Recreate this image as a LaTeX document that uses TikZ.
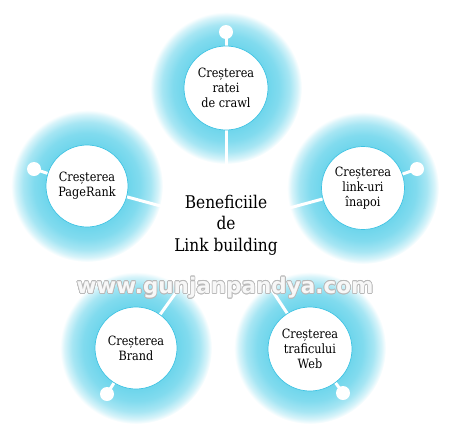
\documentclass[tikz,border=0pt]{standalone}
\usepackage{fontspec}
\usepackage[copies]{contour}
\newfontfamily\slab[FakeStretch=0.88]{DejaVu Serif}
\newfontfamily\wmfont{DejaVu Sans Bold}
\definecolor{gcyan}{HTML}{70D6EC}
\definecolor{rimcyan}{HTML}{3EC3E3}
\pgfdeclareradialshading{glow}{\pgfpointorigin}{color(0bp)=(gcyan); color(14bp)=(gcyan); color(17.5bp)=(gcyan!88); color(21bp)=(gcyan!62); color(23.5bp)=(gcyan!28); color(25bp)=(white); color(50bp)=(white)}
\contourlength{0.7pt}
\tikzset{
  glowdisc/.style={circle, minimum size=152pt, inner sep=0pt, shading=glow},
  benefit/.style={circle, minimum size=84pt, inner sep=0pt, fill=white, draw=rimcyan, line width=0.7pt, align=center, font=\slab\fontsize{12.8}{15}\selectfont},
  dotc/.style={circle, minimum size=14pt, inner sep=0pt, fill=white},
  conn/.style={white, line width=3pt},
  stem/.style={white, line width=3pt},
  title/.style={align=center, font=\slab\fontsize{17.5}{21.5}\selectfont},
}
\begin{document}
\begin{tikzpicture}[x=1pt,y=-1pt]
\useasboundingbox (0,0) rectangle (450,437);
% glows
\node[glowdisc] (tg) at (226,88) {};
\node[glowdisc] (lg) at (87,186) {};
\node[glowdisc] (rg) at (363,188) {};
\node[glowdisc] (blg) at (136,348) {};
\node[glowdisc] (brg) at (310,348) {};
% connector ends
\coordinate (tc) at (226,172);
\coordinate (lc) at (168,208);
\coordinate (rc) at (282,210);
\coordinate (blc) at (190,273);
\coordinate (brc) at (262,275);
% dots
\node[dotc] (td) at (226,32) {};
\node[dotc] (ld) at (34,169) {};
\node[dotc] (rd) at (417,169) {};
\node[dotc] (bld) at (107,394) {};
\node[dotc] (brd) at (343,393) {};
% connectors and stems
\draw[conn] (tg.center) -- (tc);
\draw[conn] (lg.center) -- (lc);
\draw[conn] (rg.center) -- (rc);
\draw[conn] (blg.center) -- (blc);
\draw[conn] (brg.center) -- (brc);
\draw[stem] (td.center) -- (tg.center);
\draw[stem] (ld.center) -- (lg.center);
\draw[stem] (rd.center) -- (rg.center);
\draw[stem] (bld.center) -- (blg.center);
\draw[stem] (brd.center) -- (brg.center);
% benefit circles
\node[benefit] (t) at (226,88) {Creșterea\\ratei\\de crawl};
\node[benefit, minimum size=82pt] (l) at (87,186) {Creșterea\\PageRank};
\node[benefit, minimum size=83pt] (r) at (363,188) {Creșterea\\link-uri\\înapoi};
\node[benefit, minimum size=82pt] (bl) at (136,348) {Creșterea\\Brand};
\node[benefit] (br) at (310,349) {Creșterea\\traficului\\Web};
% center title
\node[title] (c) at (226,225) {Beneficiile\\de\\Link building};
% watermark
\node (wm) at (225,288) {\wmfont\fontsize{21.5}{22}\selectfont\textcolor{gray!6}{\contour{gray!55}{www.gunjanpandya.com}}};
\end{tikzpicture}
\end{document}
